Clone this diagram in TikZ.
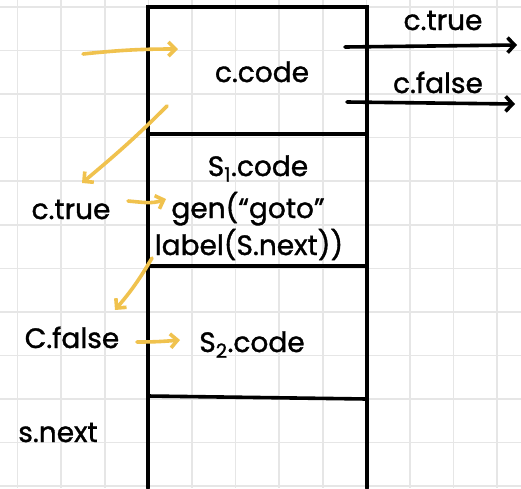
\documentclass[tikz,border=0pt]{standalone}
\usepackage{fontspec}
\setmainfont{Poppins}[FakeBold=1.2]
\usepackage{xcolor}
\usepackage{tikz}
\usetikzlibrary{arrows.meta}
\definecolor{penyellow}{HTML}{F0C24E}
\definecolor{gridgrey}{HTML}{E6E6E6}

\tikzset{
  gridline/.style={gridgrey, line width=1.6pt},
  frame/.style={black, line width=3.6pt, line cap=round},
  hand/.style={font=\fontsize{28}{32}\selectfont, inner sep=0pt, anchor=base},
  jump/.style={black, line width=3.6pt, line cap=round,
    -{Straight Barb[length=7pt, width=15pt, line width=3.6pt]}},
  flow/.style={penyellow, line width=3.6pt, line cap=round,
    -{Straight Barb[length=7pt, width=14pt, line width=3.6pt]}}
}

\begin{document}
\begin{tikzpicture}[x=1pt, y=-1pt]
  \useasboundingbox (0,0) rectangle (521,488);
  \fill[white] (0,0) rectangle (521,488);

  % squared paper
  \foreach \gx in {0,...,11}
    \draw[gridline] ({17.5+43.6*\gx},0) -- ++(0,488);
  \foreach \gy in {0,...,11}
    \draw[gridline] (0,{7+43.55*\gy}) -- ++(521,0);

  % code layout column
  \draw[frame] (148,488) -- (148,7) -- (367,7) -- (367,488);
  \draw[frame] (148,134) -- (367,134);
  \draw[frame] (148,266) -- (367,266);
  \draw[frame] (148,396) -- (367,399);

  % contents of the cells
  \node[hand] (ccode) at (262,82) {c.code};
  \node[hand] (sonecode) at (258,176) {S\textsubscript{1}.code};
  \node[hand] (gengoto) at (248,218) {gen(“goto”};
  \node[hand] (label) at (249,255) {label(S.next))};
  \node[hand] (stwocode) at (252,352) {S\textsubscript{2}.code};

  % labels outside
  \node[hand] (ctrue) at (71,219) {c.true};
  \node[hand] (cfalse) at (72,348) {C.false};
  \node[hand] (snext) at (58,442) {s.next};
  \node[hand] (outtrue) at (443,30) {c.true};
  \node[hand] (outfalse) at (438,93) {c.false};

  % jump targets of the condition
  \coordinate (truefrom) at (345,47);
  \coordinate (trueto) at (517,45);
  \coordinate (falsefrom) at (347,102);
  \coordinate (falseto) at (515,104);
  \draw[jump] (truefrom) -- (trueto);
  \draw[jump] (falsefrom) -- (falseto);

  % control flow
  \coordinate (entry) at (83,54);
  \coordinate (entryend) at (178,49);
  \coordinate (condexit) at (167,106);
  \coordinate (trueland) at (82,183);
  \coordinate (truefrom2) at (128,201);
  \coordinate (trueinto) at (166,199);
  \coordinate (sonexit) at (152,258);
  \coordinate (falseland) at (115,310);
  \coordinate (falsefrom2) at (137,342);
  \coordinate (falseinto) at (180,340);
  \draw[flow] (entry) to[bend left=3] (entryend);
  \draw[flow] (condexit) to[out=225, in=40] (trueland);
  \draw[flow] (truefrom2) to[out=-5, in=200] (trueinto);
  \draw[flow] (sonexit) to[bend left=5] (falseland);
  \draw[flow] (falsefrom2) to[out=0, in=185] (falseinto);
\end{tikzpicture}
\end{document}
